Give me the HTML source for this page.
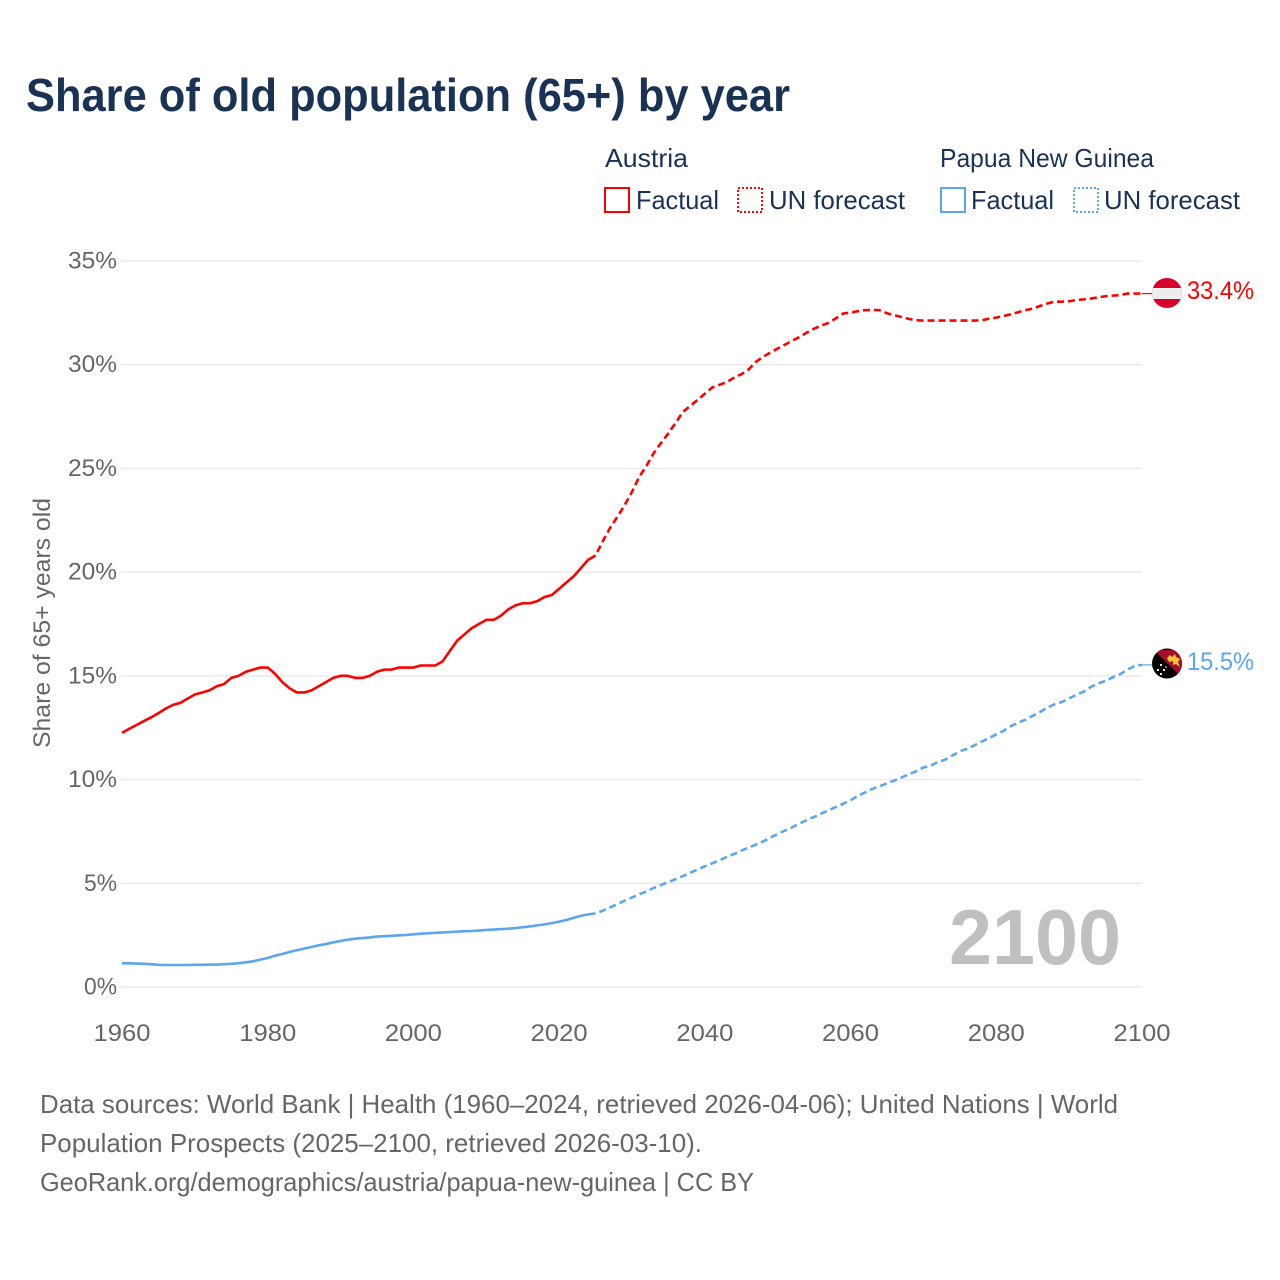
<!DOCTYPE html>
<html lang="en">
<head>
<meta charset="utf-8">
<title>Share of old population (65+) by year</title>
<style>
html,body{margin:0;padding:0;background:#fff;}
svg{display:block;font-family:"Liberation Sans",sans-serif;}
</style>
</head>
<body>
<svg id="chart" xmlns="http://www.w3.org/2000/svg" width="1280" height="1280" viewBox="0 0 1280 1280">
  <defs>
    <clipPath id="flag-clip-at"><circle cx="1167" cy="293" r="15"></circle></clipPath>
    <clipPath id="flag-clip-pg"><circle cx="1167" cy="664.5" r="15"></circle></clipPath>
  </defs>
  <rect x="0" y="0" width="1280" height="1280" fill="#ffffff"></rect>
  <text x="26" y="111" font-size="46" font-weight="700" fill="#1a3355" textLength="764" lengthAdjust="spacingAndGlyphs">Share of old population (65+) by year</text>

  <g font-size="26" fill="#1a3355">
    <text x="605" y="167" textLength="83" lengthAdjust="spacingAndGlyphs">Austria</text>
    <rect x="605" y="188" width="24" height="24" fill="none" stroke="#ff0000" stroke-width="2"></rect>
    <text x="636" y="209" textLength="83" lengthAdjust="spacingAndGlyphs">Factual</text>
    <rect x="738" y="188" width="24" height="24" fill="none" stroke="#ff0000" stroke-width="2" stroke-dasharray="2 2"></rect>
    <text x="769" y="209" textLength="136" lengthAdjust="spacingAndGlyphs">UN forecast</text>
    <text x="940" y="167" textLength="214" lengthAdjust="spacingAndGlyphs">Papua New Guinea</text>
    <rect x="941" y="188" width="24" height="24" fill="none" stroke="#5ca6ef" stroke-width="2"></rect>
    <text x="971" y="209" textLength="83" lengthAdjust="spacingAndGlyphs">Factual</text>
    <rect x="1074" y="188" width="24" height="24" fill="none" stroke="#5ca6ef" stroke-width="2" stroke-dasharray="2 2"></rect>
    <text x="1104" y="209" textLength="136" lengthAdjust="spacingAndGlyphs">UN forecast</text>
  </g>

  <g id="grid"></g>
  <g id="yticks" font-size="24" fill="#666666"></g>
  <g id="xticks" font-size="24" fill="#666666"></g>
  <text transform="translate(50,623) rotate(-90)" text-anchor="middle" font-size="24" fill="#666666" textLength="250" lengthAdjust="spacingAndGlyphs">Share of 65+ years old</text>
  <text x="949" y="964" font-size="78" font-weight="700" fill="#c0c0c0" textLength="172" lengthAdjust="spacingAndGlyphs">2100</text>

  <g id="series" fill="none" stroke-width="2.6" stroke-linejoin="round"></g>

  <g clip-path="url(#flag-clip-at)">
    <rect x="1150" y="276" width="34" height="34" fill="#d8002b"></rect>
    <rect x="1150" y="288" width="34" height="11" fill="#eeeeee"></rect>
  </g>
  <g clip-path="url(#flag-clip-pg)" transform="translate(0,-1)">
    <rect x="1150" y="647" width="34" height="35" fill="#000000"></rect>
    <polygon points="1154,651 1184,651 1184,681" fill="#a50d2c"></polygon>
    <polygon points="1167,659 1170,656 1172,658 1175,655 1176,658 1180,660 1178,663 1180,668 1176,665 1173,666 1173,662 1169,663" fill="#f8c430"></polygon>
    <circle cx="1161" cy="666" r="1.1" fill="#ffffff"></circle>
    <circle cx="1158" cy="671" r="1.1" fill="#ffffff"></circle>
    <circle cx="1164" cy="671" r="1.1" fill="#ffffff"></circle>
    <circle cx="1161" cy="675" r="1.1" fill="#ffffff"></circle>
    <circle cx="1166" cy="668" r="0.8" fill="#ffffff"></circle>
  </g>
  <text x="1187" y="299" font-size="25" fill="#ff0000" textLength="67" lengthAdjust="spacingAndGlyphs">33.4%</text>
  <text x="1187" y="670" font-size="25" fill="#5ca6ef" textLength="67" lengthAdjust="spacingAndGlyphs">15.5%</text>

  <g font-size="26" fill="#666666">
    <text x="40" y="1113" textLength="1078" lengthAdjust="spacingAndGlyphs">Data sources: World Bank | Health (1960–2024, retrieved 2026-04-06); United Nations | World</text>
    <text x="40" y="1152" textLength="662" lengthAdjust="spacingAndGlyphs">Population Prospects (2025–2100, retrieved 2026-03-10).</text>
    <text x="40" y="1191" textLength="714" lengthAdjust="spacingAndGlyphs">GeoRank.org/demographics/austria/papua-new-guinea | CC BY</text>
  </g>
</svg>
<script>
const startYear = 1960;
const lastFactualYear = 2025;
const yTickValues = [0, 5, 10, 15, 20, 25, 30, 35];
const yTickLabels = ["0%", "5%", "10%", "15%", "20%", "25%", "30%", "35%"];
const xTickValues = [1960, 1980, 2000, 2020, 2040, 2060, 2080, 2100];
const xTickLabels = ["1960", "1980", "2000", "2020", "2040", "2060", "2080", "2100"];

const austriaValues = [
  12.25,12.45,12.63,12.82,13.0,13.2,13.42,13.6,13.7,13.9,
  14.1,14.2,14.3,14.5,14.6,14.9,15.0,15.2,15.3,15.4,
  15.4,15.1,14.7,14.4,14.2,14.2,14.3,14.5,14.7,14.9,
  15.0,15.0,14.9,14.9,15.0,15.2,15.3,15.3,15.4,15.4,
  15.4,15.5,15.5,15.5,15.7,16.2,16.7,17.0,17.3,17.5,
  17.7,17.7,17.9,18.2,18.4,18.5,18.5,18.6,18.8,18.9,
  19.2,19.5,19.8,20.2,20.6,20.8,
  21.5,22.14,22.67,23.24,23.87,24.6,25.13,25.75,26.23,
  26.7,27.2,27.73,28.02,28.3,28.6,28.9,29.03,29.16,29.37,
  29.54,29.77,30.14,30.38,30.59,30.78,30.97,31.16,31.34,31.55,
  31.74,31.89,32.02,32.24,32.47,32.51,32.58,32.63,32.64,32.63,
  32.48,32.39,32.3,32.21,32.14,32.13,32.13,32.13,32.13,32.13,
  32.13,32.13,32.13,32.14,32.22,32.27,32.35,32.43,32.53,32.63,
  32.7,32.83,32.95,33.04,33.04,33.06,33.12,33.15,33.19,33.25,
  33.3,33.33,33.36,33.43,33.43,33.43
];

const pngValues = [
  1.14,1.14,1.13,1.12,1.1,1.07,1.06,1.06,1.06,1.06,
  1.07,1.07,1.08,1.08,1.1,1.12,1.15,1.19,1.24,1.32,
  1.4,1.51,1.59,1.69,1.77,1.85,1.93,2.01,2.07,2.15,
  2.22,2.28,2.33,2.36,2.39,2.43,2.45,2.47,2.49,2.51,
  2.54,2.57,2.59,2.61,2.63,2.65,2.67,2.69,2.7,2.72,
  2.75,2.77,2.79,2.81,2.84,2.88,2.92,2.97,3.02,3.08,
  3.15,3.23,3.34,3.43,3.5,3.55,
  3.68,3.84,4.0,4.16,4.31,4.47,4.61,4.78,4.92,
  5.06,5.2,5.35,5.51,5.66,5.82,5.96,6.11,6.27,6.41,
  6.57,6.72,6.86,7.02,7.2,7.38,7.54,7.7,7.88,8.05,
  8.2,8.36,8.52,8.68,8.84,9.0,9.22,9.38,9.55,9.68,
  9.82,9.95,10.1,10.26,10.4,10.58,10.67,10.85,10.96,11.16,
  11.37,11.48,11.65,11.83,12.0,12.18,12.35,12.57,12.75,12.88,
  13.07,13.26,13.47,13.63,13.74,13.92,14.08,14.24,14.47,14.64,
  14.76,14.93,15.08,15.3,15.48,15.53
];

const SVG_NS = "http://www.w3.org/2000/svg";
function xScale(year) { return 122 + (year - 1960) * (1142 - 122) / 140; }
function yScale(v) { return 987 - v * (987 - 261) / 35; }
function buildPath(values, fromYear, toYear) {
  let d = "";
  for (let y = fromYear; y <= toYear; y++) {
    const v = values[y - startYear];
    d += (d ? "L" : "M") + xScale(y).toFixed(2) + " " + yScale(v).toFixed(2);
  }
  return d;
}

const grid = document.getElementById("grid");
const yticks = document.getElementById("yticks");
const xticks = document.getElementById("xticks");
const series = document.getElementById("series");

yTickValues.forEach(function (v, i) {
  const line = document.createElementNS(SVG_NS, "line");
  
  
  line.setAttribute("x1", xScale(1960) - 1);
  line.setAttribute("x2", xScale(2100));
  line.setAttribute("y1", yScale(v));
  line.setAttribute("y2", yScale(v));
  line.setAttribute("stroke", "#ebebeb");
  line.setAttribute("stroke-width", "1.5");
  grid.appendChild(line);

  const label = document.createElementNS(SVG_NS, "text");
  
  
  label.setAttribute("x", 117);
  label.setAttribute("y", yScale(v) + 7.5);
  label.setAttribute("text-anchor", "end");
  label.setAttribute("textLength", yTickLabels[i].length === 2 ? 33 : 49);
  label.setAttribute("lengthAdjust", "spacingAndGlyphs");
  label.textContent = yTickLabels[i];
  yticks.appendChild(label);
});

xTickValues.forEach(function (year, i) {
  const label = document.createElementNS(SVG_NS, "text");
  
  
  label.setAttribute("x", xScale(year));
  label.setAttribute("y", 1041);
  label.setAttribute("text-anchor", "middle");
  label.setAttribute("textLength", 57);
  label.setAttribute("lengthAdjust", "spacingAndGlyphs");
  label.textContent = xTickLabels[i];
  xticks.appendChild(label);
});

function addSeries(values, color, key) {
  const solid = document.createElementNS(SVG_NS, "path");
  
  
  solid.setAttribute("d", buildPath(values, 1960, lastFactualYear));
  solid.setAttribute("stroke", color);
  series.appendChild(solid);

  const dashed = document.createElementNS(SVG_NS, "path");
  
  
  dashed.setAttribute("d", buildPath(values, lastFactualYear, 2100));
  dashed.setAttribute("stroke", color);
  dashed.setAttribute("stroke-dasharray", "7 4");
  dashed.setAttribute("stroke-dashoffset", "7");
  series.appendChild(dashed);

  const last = values[values.length - 1];
  const connector = document.createElementNS(SVG_NS, "line");
  
  
  connector.setAttribute("x1", xScale(2100));
  connector.setAttribute("x2", xScale(2100) + 10);
  connector.setAttribute("y1", yScale(last));
  connector.setAttribute("y2", yScale(last));
  connector.setAttribute("stroke", color);
  connector.setAttribute("stroke-width", "1.2");
  series.appendChild(connector);
}

addSeries(austriaValues, "#ff0000", "austria");
addSeries(pngValues, "#5ca6ef", "papua-new-guinea");
</script>
</body>
</html>
